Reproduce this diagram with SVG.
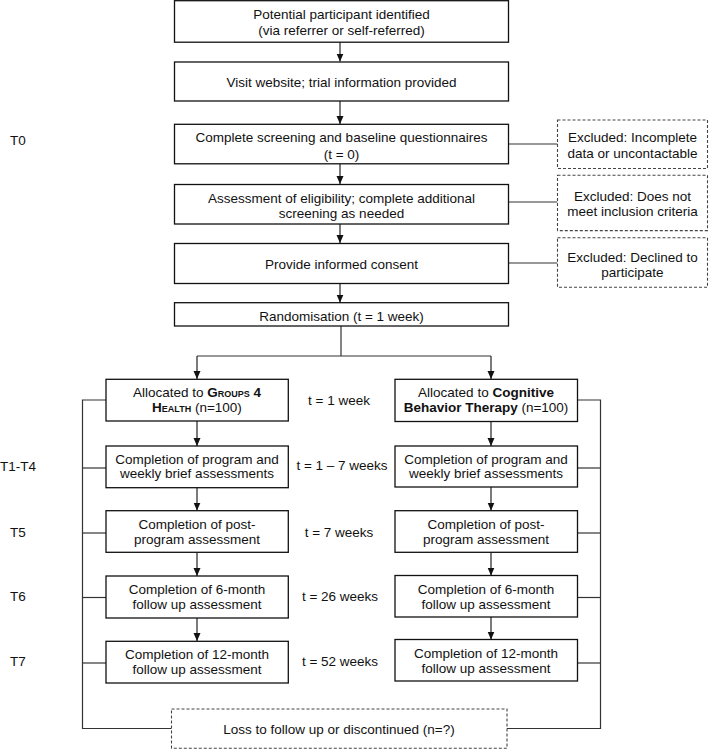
<svg xmlns="http://www.w3.org/2000/svg" width="709" height="749" viewBox="0 0 709 749">
<style>
text{font-family:"Liberation Sans",Arial,sans-serif;font-size:13.5px;fill:#111;text-anchor:middle}
.box{fill:#fff;stroke:#111;stroke-width:1.3}
.dash{fill:#fff;stroke:#444;stroke-width:1.1;stroke-dasharray:3 2}
.ln{fill:none;stroke:#333;stroke-width:1.2}
.ar{fill:none;stroke:#222;stroke-width:1.2;marker-end:url(#ah)}
.b{font-weight:bold}
.sc{font-weight:bold;font-variant:small-caps}
</style>
<defs>
<marker id="ah" viewBox="0 0 8 8" refX="8" refY="4" markerWidth="8" markerHeight="8" markerUnits="userSpaceOnUse" orient="auto">
<path d="M0,0.5 L8,4 L0,7.5 Z" fill="#111"/>
</marker>
</defs>
<g id="connectors">
<line class="ar" x1="340" y1="42" x2="340" y2="61.5"/>
<line class="ar" x1="340" y1="101" x2="340" y2="124"/>
<line class="ar" x1="340" y1="164" x2="340" y2="184"/>
<line class="ar" x1="340" y1="224" x2="340" y2="243"/>
<line class="ar" x1="340" y1="283.5" x2="340" y2="302.5"/>
<line class="ln" x1="508.5" y1="144" x2="557.5" y2="144"/>
<line class="ln" x1="508.5" y1="202" x2="557.5" y2="202"/>
<line class="ln" x1="508.5" y1="263" x2="557.5" y2="263"/>
<polyline class="ln" points="341,326 341,356"/>
<polyline class="ln" points="197,356 491,356"/>
<line class="ar" x1="197" y1="356" x2="197" y2="379"/>
<line class="ar" x1="491" y1="356" x2="491" y2="379"/>
<line class="ar" x1="197" y1="421" x2="197" y2="446"/>
<line class="ar" x1="197" y1="488" x2="197" y2="510.5"/>
<line class="ar" x1="197" y1="552.5" x2="197" y2="576"/>
<line class="ar" x1="197" y1="618" x2="197" y2="641"/>
<line class="ar" x1="491" y1="421.5" x2="491" y2="446"/>
<line class="ar" x1="491" y1="487" x2="491" y2="510.5"/>
<line class="ar" x1="491" y1="552.5" x2="491" y2="575.5"/>
<line class="ar" x1="491" y1="617" x2="491" y2="639.5"/>
<polyline class="ln" points="106,400 82.5,400 82.5,728.5 171.5,728.5"/>
<line class="ln" x1="82.5" y1="468" x2="106" y2="468"/>
<line class="ln" x1="82.5" y1="533" x2="106" y2="533"/>
<line class="ln" x1="82.5" y1="597.5" x2="106" y2="597.5"/>
<line class="ln" x1="82.5" y1="663" x2="106" y2="663"/>
<polyline class="ln" points="577.5,400 600.5,400 600.5,728.5 507,728.5"/>
<line class="ln" x1="577.5" y1="468" x2="600.5" y2="468"/>
<line class="ln" x1="577.5" y1="533" x2="600.5" y2="533"/>
<line class="ln" x1="577.5" y1="597.5" x2="600.5" y2="597.5"/>
<line class="ln" x1="577.5" y1="663" x2="600.5" y2="663"/>
</g>
<g id="labels">
<text x="18" y="145">T0</text>
<text x="18" y="471">T1-T4</text>
<text x="18" y="537">T5</text>
<text x="18" y="601">T6</text>
<text x="18" y="666">T7</text>
<text x="339" y="405">t = 1 week</text>
<text x="342" y="470">t = 1 – 7 weeks</text>
<text x="339" y="537">t = 7 weeks</text>
<text x="340" y="601">t = 26 weeks</text>
<text x="340" y="666">t = 52 weeks</text>
</g>
<g id="n1"><rect class="box" x="174.5" y="0.7" width="334" height="41.5"/><text x="341.5" y="19">Potential participant identified</text><text x="341.5" y="34.5">(via referrer or self-referred)</text></g>
<g id="n2"><rect class="box" x="174.5" y="62" width="334" height="39"/><text x="341.5" y="86.5">Visit website; trial information provided</text></g>
<g id="n3"><rect class="box" x="174.5" y="124.3" width="334" height="39.5"/><text x="341.5" y="142">Complete screening and baseline questionnaires</text><text x="341.5" y="159">(t = 0)</text></g>
<g id="n4"><rect class="box" x="174.5" y="184.5" width="334" height="39.5"/><text x="341.5" y="203">Assessment of eligibility; complete additional</text><text x="341.5" y="218">screening as needed</text></g>
<g id="n5"><rect class="box" x="174.5" y="243.5" width="334" height="40"/><text x="341.5" y="269">Provide informed consent</text></g>
<g id="x1"><rect class="dash" x="557.5" y="120" width="150" height="48.5"/><text x="632.5" y="142">Excluded: Incomplete</text><text x="632.5" y="158">data or uncontactable</text></g>
<g id="x2"><rect class="dash" x="557.5" y="175.3" width="150" height="55.3"/><text x="632.5" y="201">Excluded: Does not</text><text x="632.5" y="215.5">meet inclusion criteria</text></g>
<g id="x3"><rect class="dash" x="557.5" y="237.7" width="150" height="49.5"/><text x="632.5" y="261.5">Excluded: Declined to</text><text x="632.5" y="276.5">participate</text></g>
<g id="n6"><rect class="box" x="174.5" y="302.7" width="334" height="23.3"/><text x="341.5" y="320.5">Randomisation (t = 1 week)</text></g>
<g id="a1"><rect class="box" x="106" y="379.3" width="182.3" height="41.7"/><text x="197" y="396.5">Allocated to <tspan class="sc">Groups 4</tspan></text><text x="197" y="411.5"><tspan class="sc">Health</tspan> (n=100)</text></g>
<g id="b1"><rect class="box" x="395" y="379.3" width="182.5" height="42.2"/><text x="486" y="397">Allocated to <tspan class="b">Cognitive</tspan></text><text x="486" y="412"><tspan class="b">Behavior Therapy</tspan> (n=100)</text></g>
<g id="a2"><rect class="box" x="106" y="446" width="182.3" height="41.7"/><text x="197" y="464">Completion of program and</text><text x="197" y="478">weekly brief assessments</text></g>
<g id="b2"><rect class="box" x="395" y="446" width="182.5" height="41"/><text x="486" y="464">Completion of program and</text><text x="486" y="478">weekly brief assessments</text></g>
<g id="a3"><rect class="box" x="106" y="510.7" width="182.3" height="41.6"/><text x="197" y="529">Completion of post-</text><text x="197" y="544">program assessment</text></g>
<g id="b3"><rect class="box" x="395" y="510.7" width="182.5" height="41.6"/><text x="486" y="529">Completion of post-</text><text x="486" y="544">program assessment</text></g>
<g id="a4"><rect class="box" x="106" y="576" width="182.3" height="42"/><text x="197" y="594">Completion of 6-month</text><text x="197" y="609">follow up assessment</text></g>
<g id="b4"><rect class="box" x="395" y="575.5" width="182.5" height="41.5"/><text x="486" y="593.5">Completion of 6-month</text><text x="486" y="608.5">follow up assessment</text></g>
<g id="a5"><rect class="box" x="106" y="641.3" width="182.3" height="41.7"/><text x="197" y="659">Completion of 12-month</text><text x="197" y="674">follow up assessment</text></g>
<g id="b5"><rect class="box" x="395" y="639.5" width="182.5" height="41.5"/><text x="486" y="657.5">Completion of 12-month</text><text x="486" y="672.5">follow up assessment</text></g>
<g id="loss"><rect class="dash" x="171.5" y="709" width="335.5" height="39.3"/><text x="339" y="734">Loss to follow up or discontinued (n=?)</text></g>
</svg>
